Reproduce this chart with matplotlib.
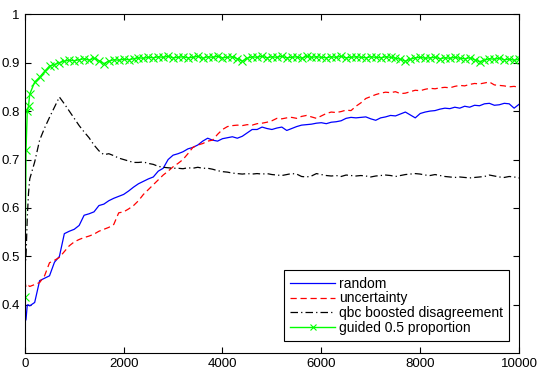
"""
Active learning curves: accuracy vs. number of labelled examples
"""

import matplotlib.pyplot as plt
import numpy as np

# sample points (number of labelled examples)
iters = [0, 25, 50, 75] + list(range(100, 10001, 100))

random_acc = [
    0.364, 0.370, 0.400, 0.400, 0.398, 0.405, 0.450, 0.455, 0.460, 0.488,
    0.500, 0.547, 0.552, 0.556, 0.564, 0.585, 0.588, 0.592, 0.605, 0.608,
    0.615, 0.620, 0.624, 0.628, 0.635, 0.643, 0.650, 0.655, 0.660, 0.664,
    0.676, 0.682, 0.700, 0.709, 0.712, 0.716, 0.722, 0.725, 0.730, 0.738,
    0.744, 0.740, 0.738, 0.743, 0.745, 0.747, 0.744, 0.748, 0.755, 0.762,
    0.762, 0.767, 0.764, 0.762, 0.765, 0.767, 0.760, 0.764, 0.768, 0.771,
    0.772, 0.773, 0.775, 0.776, 0.774, 0.777, 0.778, 0.780, 0.785, 0.787,
    0.786, 0.787, 0.788, 0.784, 0.781, 0.786, 0.788, 0.791, 0.790, 0.794,
    0.798, 0.792, 0.786, 0.795, 0.798, 0.800, 0.801, 0.804, 0.806, 0.805,
    0.808, 0.806, 0.810, 0.808, 0.812, 0.811, 0.815, 0.816, 0.812, 0.813,
    0.816, 0.815, 0.806, 0.814,
]

uncertainty_acc = [
    0.450, 0.436, 0.438, 0.440, 0.438, 0.442, 0.446, 0.460, 0.487, 0.492,
    0.498, 0.510, 0.522, 0.530, 0.535, 0.539, 0.542, 0.546, 0.552, 0.556,
    0.560, 0.566, 0.590, 0.592, 0.598, 0.605, 0.615, 0.628, 0.638, 0.648,
    0.658, 0.668, 0.676, 0.685, 0.692, 0.700, 0.712, 0.725, 0.730, 0.733,
    0.738, 0.740, 0.752, 0.762, 0.768, 0.770, 0.771, 0.770, 0.772, 0.771,
    0.774, 0.775, 0.777, 0.780, 0.785, 0.784, 0.786, 0.787, 0.785, 0.789,
    0.791, 0.788, 0.785, 0.790, 0.795, 0.798, 0.797, 0.799, 0.802, 0.801,
    0.810, 0.817, 0.826, 0.830, 0.834, 0.837, 0.839, 0.838, 0.840, 0.836,
    0.837, 0.840, 0.843, 0.842, 0.845, 0.847, 0.846, 0.848, 0.849, 0.848,
    0.851, 0.853, 0.852, 0.855, 0.857, 0.856, 0.858, 0.860, 0.854, 0.853,
    0.852, 0.850, 0.851, 0.849,
]

qbc_acc = [
    0.470, 0.500, 0.580, 0.630, 0.660, 0.695, 0.740, 0.765, 0.787, 0.808,
    0.829, 0.815, 0.800, 0.785, 0.770, 0.757, 0.745, 0.730, 0.718, 0.710,
    0.712, 0.708, 0.703, 0.700, 0.697, 0.694, 0.694, 0.695, 0.692, 0.690,
    0.686, 0.684, 0.683, 0.682, 0.682, 0.681, 0.683, 0.682, 0.684, 0.682,
    0.682, 0.680, 0.677, 0.675, 0.674, 0.672, 0.671, 0.670, 0.671, 0.670,
    0.671, 0.670, 0.671, 0.669, 0.668, 0.667, 0.669, 0.671, 0.670, 0.665,
    0.664, 0.666, 0.671, 0.669, 0.667, 0.666, 0.667, 0.665, 0.668, 0.667,
    0.666, 0.667, 0.666, 0.664, 0.666, 0.667, 0.668, 0.667, 0.665, 0.667,
    0.669, 0.670, 0.671, 0.670, 0.668, 0.667, 0.669, 0.667, 0.665, 0.664,
    0.663, 0.664, 0.663, 0.662, 0.663, 0.664, 0.665, 0.668, 0.666, 0.664,
    0.663, 0.665, 0.664, 0.662,
]

guided_acc = [
    0.417, 0.720, 0.800, 0.810, 0.835, 0.860, 0.870, 0.882, 0.893, 0.896,
    0.900, 0.903, 0.905, 0.904, 0.906, 0.908, 0.905, 0.909, 0.904, 0.898,
    0.903, 0.906, 0.905, 0.907, 0.906, 0.908, 0.910, 0.909, 0.911, 0.910,
    0.912, 0.911, 0.913, 0.910, 0.911, 0.912, 0.910, 0.911, 0.913, 0.909,
    0.912, 0.911, 0.913, 0.910, 0.911, 0.912, 0.908, 0.903, 0.909, 0.912,
    0.911, 0.913, 0.910, 0.912, 0.911, 0.913, 0.910, 0.911, 0.912, 0.909,
    0.913, 0.911, 0.912, 0.911, 0.910, 0.912, 0.911, 0.913, 0.910, 0.911,
    0.912, 0.911, 0.910, 0.912, 0.911, 0.910, 0.912, 0.911, 0.909, 0.907,
    0.903, 0.907, 0.910, 0.911, 0.909, 0.910, 0.911, 0.908, 0.910, 0.909,
    0.911, 0.909, 0.908, 0.910, 0.906, 0.902, 0.905, 0.908, 0.907, 0.909,
    0.906, 0.907, 0.905, 0.907,
]

labels = ['random', 'uncertainty', 'qbc boosted disagreement', 'guided 0.5 proportion']
xticks = [0, 2000, 4000, 6000, 8000, 10000]
yticks = [0.4, 0.5, 0.6, 0.7, 0.8, 0.9, 1.0]

plt.rcParams['font.family'] = ['Liberation Sans', 'DejaVu Sans']
plt.rc('font', size=9.5)

fig = plt.figure(figsize=(5.39, 3.73), dpi=100)
ax = fig.add_axes([0.046, 0.054, 0.917, 0.908])

ax.plot(iters, random_acc, color='#0000ff', lw=0.9, label=labels[0])
ax.plot(iters, uncertainty_acc, color='#ff0000', lw=0.9, ls=(0, (5, 3)), label=labels[1])
ax.plot(iters, qbc_acc, color='black', lw=0.9, ls=(0, (6, 2.5, 1, 2.5)), label=labels[2])
ax.plot(iters, guided_acc, color='#00ff00', lw=1.0, marker='x', ms=5.5, mew=0.8,
        label=labels[3])

ax.set_xlim(0, 10000)
ax.set_ylim(0.301, 1.0)
ax.set_xticks(xticks)
ax.set_xticklabels([str(t) for t in xticks])
ax.set_yticks(yticks)
ax.set_yticklabels(['0.4', '0.5', '0.6', '0.7', '0.8', '0.9', '1'])
ax.tick_params(direction='in', top=True, right=True, length=4, width=0.8,
               colors='black', labelsize=9.5)
for sp in ax.spines.values():
    sp.set_linewidth(0.8)

leg = ax.legend(loc='lower right', bbox_to_anchor=(0.98, 0.035), borderaxespad=0,
                fancybox=False, framealpha=1, edgecolor='black', numpoints=1,
                handlelength=3.2, fontsize=10, labelspacing=0.05,
                borderpad=0.45, handletextpad=0.3, markerscale=0.7)
leg.get_frame().set_linewidth(0.8)

fig.savefig('out.png', dpi=100)
